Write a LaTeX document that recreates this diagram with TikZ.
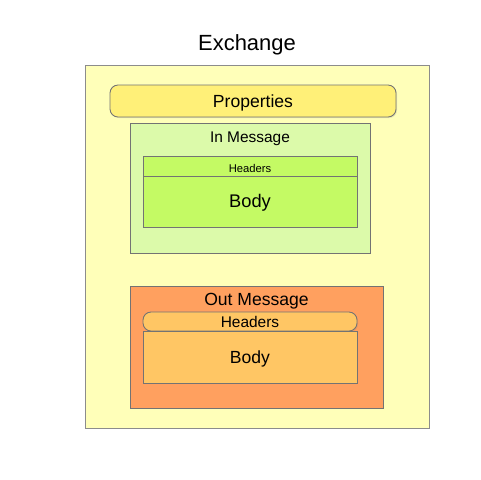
\documentclass[tikz,border=0pt]{standalone}
\usepackage{fontspec}
\setmainfont{Liberation Sans}
\usetikzlibrary{shadows}
\definecolor{exchY}{RGB}{255,255,185}
\definecolor{propY}{RGB}{255,240,120}
\definecolor{inG}{RGB}{220,250,170}
\definecolor{partG}{RGB}{196,250,100}
\definecolor{outO}{RGB}{255,160,95}
\definecolor{partO}{RGB}{255,198,100}
\begin{document}
\begin{tikzpicture}[x=0.02cm,y=-0.02cm,
  capc/.style={text height=0.72em,text depth=0pt},
  box/.style={shape=rectangle,draw=black!55,line width=0.5pt,inner sep=0,capc,
    drop shadow={opacity=0.2,shadow xshift=0.6pt,shadow yshift=-0.6pt}},
  ttl/.style={inner sep=0,anchor=center,capc},
  boxR/.style={box,rounded corners=0.16cm}]
\def\px{0.02cm};

\useasboundingbox[fill=white] (0,0) rectangle (480,480);

\node[box,draw=black!45,fill=exchY,minimum width=344*\px,minimum height=363*\px] (Ex) at (257,246.5) {};
\node[ttl,font=\fontsize{12.5}{14}\selectfont] (Ext) at (247,44) {Exchange};

\node[boxR,fill=propY,minimum width=286*\px,minimum height=32*\px,font=\fontsize{10}{12}\selectfont] (Prop) at (253,101) {Properties};

\node[box,fill=inG,minimum width=240*\px,minimum height=130*\px] (In) at (250,188) {};
\node[ttl,font=\fontsize{8.8}{10}\selectfont] (Int) at (250,136) {In Message};
\node[box,fill=partG,minimum width=214*\px,minimum height=20*\px,font=\fontsize{6.4}{8}\selectfont] (InH) at (250,166) {Headers};
\node[box,fill=partG,minimum width=214*\px,minimum height=51*\px,font=\fontsize{10.4}{12}\selectfont] (InB) at (250,201.5) {Body};

\node[box,fill=outO,minimum width=253*\px,minimum height=122*\px] (Out) at (256.5,347) {};
\node[ttl,font=\fontsize{10}{12}\selectfont] (Outt) at (256.5,299) {Out Message};
\node[boxR,fill=partO,minimum width=214*\px,minimum height=19*\px,font=\fontsize{8.8}{10}\selectfont] (OutH) at (250,321.5) {Headers};
\node[box,fill=partO,minimum width=214*\px,minimum height=52*\px,font=\fontsize{10}{12}\selectfont] (OutB) at (250,357) {Body};
\end{tikzpicture}
\end{document}
